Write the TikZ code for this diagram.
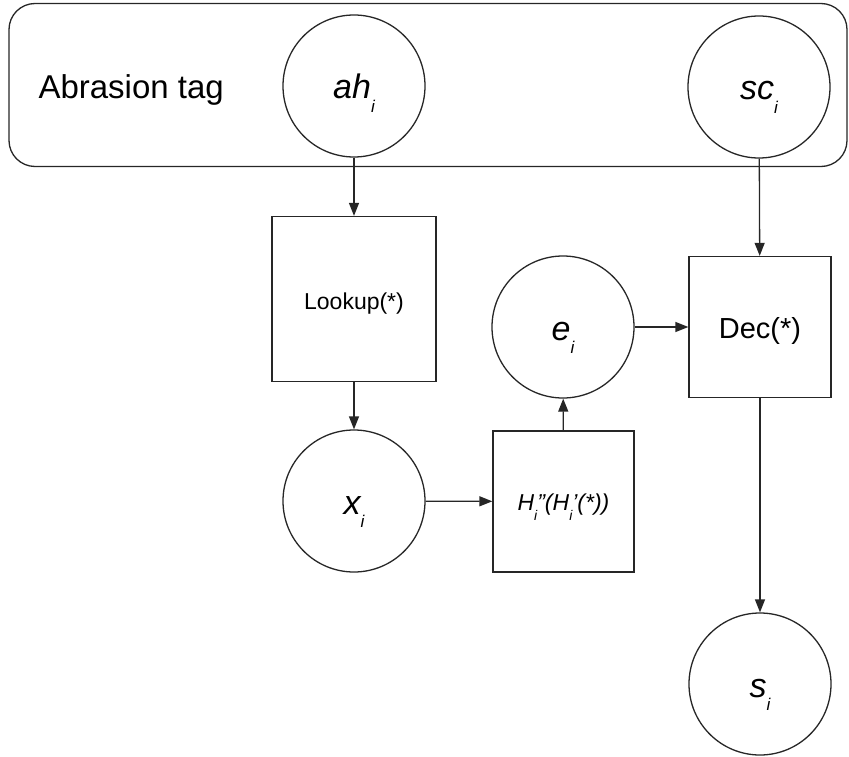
\documentclass[tikz,border=0pt]{standalone}
\usepackage{fontspec}
\setmainfont{Liberation Sans}
\usetikzlibrary{arrows.meta}
\newcommand{\subi}{\raisebox{-0.4em}{\fontsize{17}{17}\selectfont\itshape i}}
\newcommand{\smalli}{\raisebox{-0.42em}{\fontsize{14}{14}\selectfont i}}
\tikzset{
  line/.style={line width=1.3pt, draw=black!85},
  circ/.style={line, circle, minimum size=142pt, inner sep=0pt, text height=26pt, text depth=0pt, font=\fontsize{34}{34}\selectfont\itshape},
  sq/.style={line, rectangle, inner sep=0pt},
  arr/.style={line, -{Triangle[length=13pt,width=10pt]}},
}
\begin{document}
\begin{tikzpicture}[x=1pt,y=-1pt]
\useasboundingbox (0,0) rectangle (849,757);
\node[line, rectangle, rounded corners=26pt, minimum width=838pt, minimum height=163pt, inner sep=0pt] (tag) at (428,85) {};
\node[font=\fontsize{33}{33}\selectfont, anchor=base west] (lbl) at (35,99) {Abrasion tag};
\node[circ] (ah) at (354,86) {ah\subi};
\node[circ] (sc) at (759,87) {sc\subi};
\node[sq, minimum width=164pt, minimum height=165pt, text height=20pt, text depth=0pt, font=\fontsize{23}{23}\selectfont] (look) at (354,299) {Lookup(*)};
\node[circ] (x) at (354,501) {x\subi};
\node[sq, minimum width=141pt, minimum height=141pt, text height=18pt, text depth=0pt, font=\fontsize{23}{23}\selectfont\itshape] (h) at (563.5,501.5) {H\smalli\char"27\char"27(H\smalli\char"27(*))};
\node[circ] (e) at (563,327) {e\subi};
\node[sq, minimum width=142pt, minimum height=141pt, text height=22pt, text depth=0pt, font=\fontsize{29}{29}\selectfont] (dec) at (760,327) {Dec(*)};
\node[circ] (s) at (760,684) {s\subi};
\draw[arr] (ah) -- (look);
\draw[arr] (look) -- (x);
\draw[arr] (x) -- (h);
\draw[arr] (h) -- (e);
\draw[arr] (e) -- (dec);
\draw[arr] (sc) -- (dec);
\draw[arr] (dec) -- (s);
\end{tikzpicture}
\end{document}
